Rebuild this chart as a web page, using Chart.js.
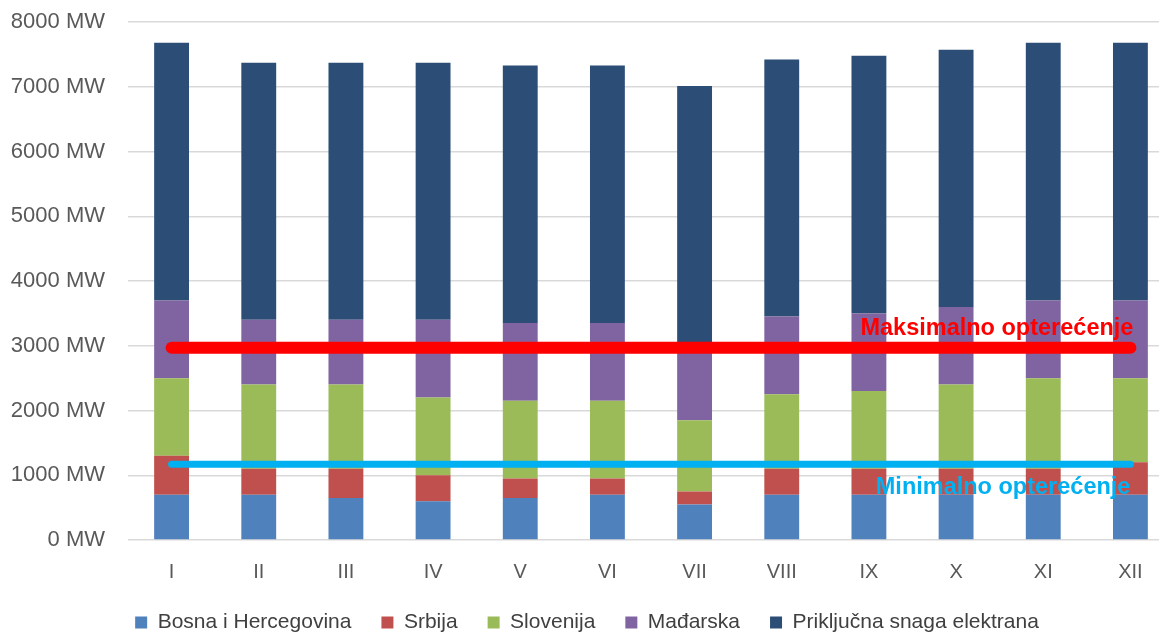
<!DOCTYPE html>
<html>
<head>
<meta charset="utf-8">
<script src="https://cdn.jsdelivr.net/npm/chart.js@4/dist/chart.umd.min.js"></script>
<style>
html,body{margin:0;padding:0;background:#fff;overflow:hidden;width:1159px;height:633px;}
#wrap{width:1176px;height:633px;}
</style>
</head>
<body>
<div id="wrap"><canvas id="c" width="1176" height="633"></canvas></div>
<script>
const months = ['I','II','III','IV','V','VI','VII','VIII','IX','X','XI','XII'];
const bih      = [700, 700, 650, 600, 650, 700, 550, 700, 700, 700, 700, 700];
const srbija   = [600, 400, 450, 400, 300, 250, 200, 400, 400, 400, 400, 500];
const slovenija= [1200,1300,1300,1200,1200,1200,1100,1150,1200,1300,1400,1300];
const madjarska= [1200,1000,1000,1200,1200,1200,1200,1200,1200,1200,1200,1200];
const prikljucna=[3980,3970,3970,3970,3980,3980,3960,3970,3980,3970,3980,3980];
const maxLoad  = 2970;
const minLoad  = 1170;
const yTicks   = [0,1000,2000,3000,4000,5000,6000,7000,8000];
const maxLabel = 'Maksimalno opterećenje';
const minLabel = 'Minimalno opterećenje';

const labelPlugin = {
  id:'lineLabels',
  afterDatasetsDraw(chart){
    const {ctx, scales:{x,y}} = chart;
    const xr = x.getPixelForValue(months.length-1);
    ctx.save();
    ctx.textAlign='right';
    ctx.textBaseline='middle';
    ctx.font='bold 23.5px "Liberation Sans", sans-serif';
    ctx.fillStyle='#ff0000';
    ctx.fillText(maxLabel, xr+3, y.getPixelForValue(maxLoad)-19);
    ctx.fillStyle='#00b0f0';
    ctx.fillText(minLabel, xr, y.getPixelForValue(minLoad)+23);
    ctx.restore();
  }
};

const bar = (label, data, color) => ({type:'bar', label, data, backgroundColor:color, stack:'s', order:2,
  barPercentage:0.4, categoryPercentage:1.0});

new Chart(document.getElementById('c'), {
  data:{
    labels:months,
    datasets:[
      bar('Bosna i Hercegovina', bih, '#4f81bd'),
      bar('Srbija', srbija, '#c0504d'),
      bar('Slovenija', slovenija, '#9bbb59'),
      bar('Mađarska', madjarska, '#8064a2'),
      bar('Priključna snaga elektrana', prikljucna, '#2c4d75'),
      {type:'line', label:'max', data:months.map(()=>maxLoad), borderColor:'#ff0000', borderWidth:12,
        borderCapStyle:'round', pointRadius:0, order:0, stack:'l1', fill:false},
      {type:'line', label:'min', data:months.map(()=>minLoad), borderColor:'#00b0f0', borderWidth:7,
        borderCapStyle:'round', pointRadius:0, order:1, stack:'l2', fill:false}
    ]
  },
  options:{
    responsive:false,
    animation:false,
    layout:{padding:{top:0,right:2,bottom:-10,left:0}},
    scales:{
      x:{stacked:true, grid:{display:false}, border:{display:false},
        afterFit(s){ s.height = 42; },
        ticks:{color:'#595959', font:{family:'"Liberation Sans", sans-serif', size:20}, padding:12}},
      y:{stacked:true, min:0, max:8000,
        afterBuildTicks(s){ s.ticks = yTicks.map(v=>({value:v})); },
        afterFit(s){ s.width = 128; s.paddingTop = 22; s.paddingBottom = 13; },
        grid:{color:'#d9d9d9', lineWidth:1.5, drawTicks:false},
        border:{display:false},
        ticks:{color:'#595959', font:{family:'"Liberation Sans", sans-serif', size:22}, padding:23,
          callback:v=>v+' MW'}}
    },
    plugins:{
      legend:{position:'bottom',
        labels:{boxWidth:12, boxHeight:12, padding:30, color:'#404040',
          font:{family:'"Liberation Sans", sans-serif', size:21},
          filter:(item)=>item.datasetIndex<5}},
      tooltip:{enabled:false}
    }
  },
  plugins:[labelPlugin]
});
</script>
</body>
</html>
